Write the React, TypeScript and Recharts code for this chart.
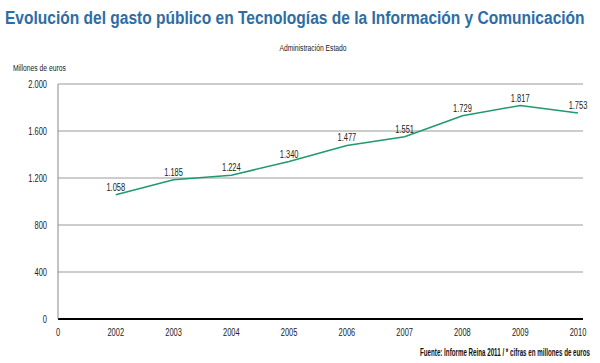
import { type FC } from "react"
import {
  CartesianGrid,
  LabelList,
  Line,
  LineChart,
  XAxis,
  YAxis,
} from "recharts"

const years = ["0", "2002", "2003", "2004", "2005", "2006", "2007", "2008", "2009", "2010"]
const gasto = [null, 1058, 1185, 1224, 1340, 1477, 1551, 1729, 1817, 1753]
const yTicks = [0, 400, 800, 1200, 1600, 2000]

const data = years.map((year, i) => ({ year, gasto: gasto[i] }))

const font = "'Liberation Sans', Arial, sans-serif"
const TITLE = "Evolución del gasto público en Tecnologías de la Información y Comunicación"
const SOURCE = "Fuente:  Informe Reina 2011 / * cifras en millones de euros"

const fmt = (v: unknown) =>
  v == null || v === "" ? "" : String(v).replace(/\B(?=(\d{3})+(?!\d))/g, ".")

// width of a string in the given css font, to squeeze text like the condensed original
const measure = (text: string, css: string) => {
  const ctx = document.createElement("canvas").getContext("2d")
  if (!ctx) return text.length * 6
  ctx.font = css
  return ctx.measureText(text).width
}

type CondProps = {
  x: number
  y: number
  anchor?: "start" | "middle" | "end"
  size?: number
  sx?: number
  weight?: string
  fill?: string
  dy?: string
  children: string
}

const Cond: FC<CondProps> = ({ x, y, anchor = "middle", size = 10, sx = 0.75, weight = "normal", fill = "#222", dy, children }) => (
  <g transform={`translate(${x},${y}) scale(${sx},1)`}>
    <text x={0} y={0} dy={dy} textAnchor={anchor} fontFamily={font} fontSize={size} fontWeight={weight} fill={fill}>
      {children}
    </text>
  </g>
)

const XTick = (props: any) => (
  <Cond x={props.x} y={props.y} dy="0.71em">{String(props.payload.value)}</Cond>
)

const YTick = (props: any) => (
  <Cond x={props.x} y={props.y} anchor="end" dy="0.355em">{fmt(props.payload.value)}</Cond>
)

const PointLabel = (props: any) => {
  if (props.value == null) return null
  return <Cond x={props.x} y={props.y - 4}>{fmt(props.value)}</Cond>
}

const App: FC = () => {
  const titleScale = 580 / measure(TITLE, `bold 19px ${font}`)
  const sourceScale = 172 / measure(SOURCE, `bold 10px ${font}`)

  return (
    <div style={{ position: "absolute", left: 0, top: 0, width: 600, height: 363, background: "#fff" }}>
      <LineChart
        width={600}
        height={363}
        data={data}
        margin={{ top: 84, right: 17, bottom: 14, left: 0 }}
      >
        <CartesianGrid vertical={false} stroke="#9a9a9a" />
        <XAxis
          dataKey="year"
          axisLine={{ stroke: "#000", strokeWidth: 2 }}
          tickLine={false}
          tickMargin={4}
          height={30}
          interval={0}
          padding={{ left: 0, right: 5 }}
          tick={<XTick />}
        />
        <YAxis
          width={58}
          domain={[0, 2000]}
          ticks={yTicks}
          axisLine={{ stroke: "#888" }}
          tickLine={false}
          tickMargin={5}
          tick={<YTick />}
        />
        <Line
          dataKey="gasto"
          stroke="#1f9a6c"
          strokeWidth={1.5}
          dot={false}
          type="linear"
          isAnimationActive={false}
        >
          <LabelList dataKey="gasto" content={<PointLabel />} />
        </Line>
      </LineChart>
      <svg
        width={600}
        height={363}
        style={{ position: "absolute", left: 0, top: 0, pointerEvents: "none" }}
      >
        <Cond x={5} y={24} anchor="start" size={19} sx={titleScale} weight="bold" fill="#2e6da4">
          {TITLE}
        </Cond>
        <Cond x={313} y={51} size={9}>Administración Estado</Cond>
        <Cond x={13} y={71} anchor="start" size={9}>Millones de euros</Cond>
        <Cond x={590} y={356} anchor="end" size={10} sx={sourceScale} weight="bold" fill="#111">
          {SOURCE}
        </Cond>
      </svg>
    </div>
  )
}

export default App
